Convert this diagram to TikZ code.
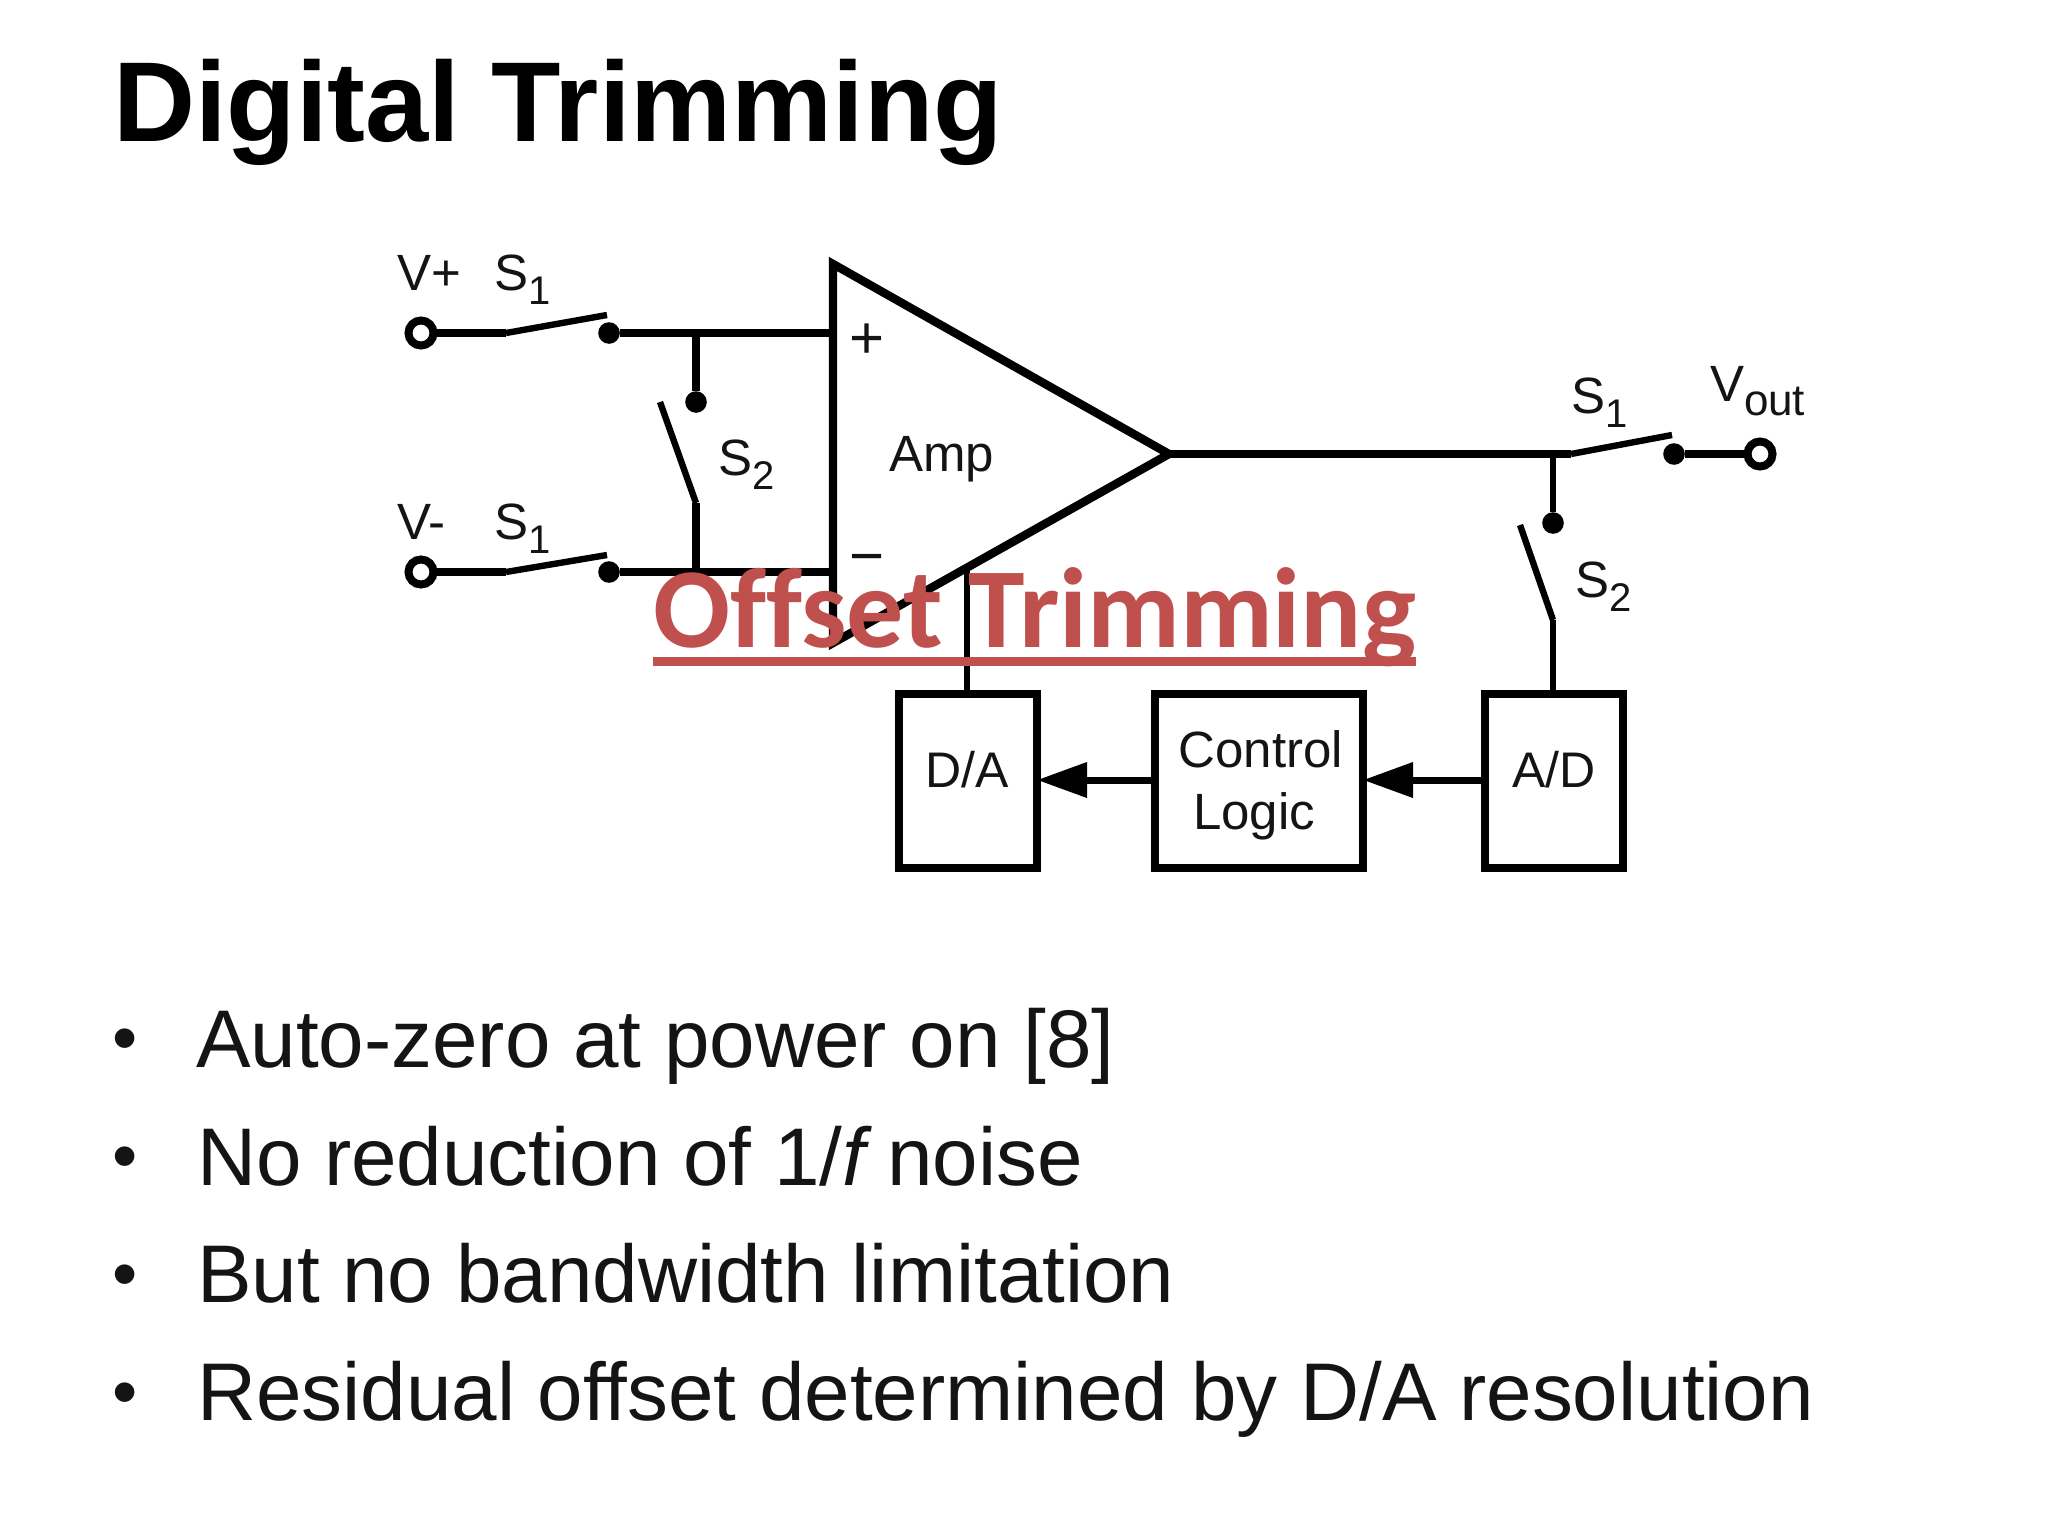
\documentclass[tikz,border=0pt]{standalone}
\usepackage{fontspec}
\setmainfont{Liberation Sans}
\newfontfamily\offsetfont[Ligatures=NoCommon]{Carlito}
\usetikzlibrary{arrows.meta}
\newcommand{\fsz}[1]{\fontsize{#1}{#1}\selectfont}
\newcommand{\subs}[2]{#1\raisebox{-7pt}{\fsz{20}#2}}
\definecolor{offsetred}{HTML}{C0504D}
\definecolor{ink}{HTML}{141414}
\tikzset{
  txt/.style={inner sep=0pt,outer sep=0pt,anchor=base west,text=ink},
  lab/.style={txt,font=\fsz{25.5}},
  bul/.style={txt,font=\fsz{40.9}},
  bdot/.style={inner sep=0pt,outer sep=0pt,anchor=center,text=ink,font=\fsz{36}},
  wire/.style={line width=3.6pt,black},
  blade/.style={line width=3.2pt,black},
  term/.style={circle,draw=black,line width=4pt,fill=white,minimum size=12.5pt,inner sep=0pt,outer sep=0pt},
  cdot/.style={circle,fill=black,minimum size=10.8pt,inner sep=0pt,outer sep=0pt},
  blockbox/.style={rectangle,draw=black,line width=4pt,fill=white,inner sep=0pt,outer sep=0pt},
  sigarrow/.style={line width=3.5pt,black,-{Triangle[length=25pt,width=17pt]}},
}
\begin{document}
\begin{tikzpicture}[x=0.5pt,y=-0.5pt]
\useasboundingbox (0,0) rectangle (2048,1536);
\fill[white] (0,0) rectangle (2048,1536);

% title
\node[txt,font=\fsz{56.8}\bfseries,text=black] (title) at (113,141) {Digital Trimming};

% amplifier
\coordinate (top) at (833,264);
\coordinate (tip) at (1169,454);
\coordinate (bot) at (833,643);
\coordinate (tap) at (967,566);
\draw[line width=4.2pt,black,line join=miter] (top) -- (tip) -- (bot) -- cycle;
\node[lab] (amp) at (889,471) {Amp};
\node[inner sep=0pt,outer sep=0pt,font=\fsz{30},text=ink] (plus) at (867,341) {+};
\node[inner sep=0pt,outer sep=0pt,font=\fsz{30},text=ink] (minus) at (867,565) {−};

% input terminals
\node[term] (vp) at (421,333) {};
\node[term] (vm) at (421,572) {};
\node[cdot] (dp) at (609,333) {};
\node[cdot] (dm) at (609,572) {};
\coordinate (sp0) at (506,333);
\coordinate (sp1) at (607,315);
\coordinate (sm0) at (506,572);
\coordinate (sm1) at (607,555);
\coordinate (ip) at (833,333);
\coordinate (im) at (833,572);
\draw[wire] (vp) -- (sp0);
\draw[wire] (vm) -- (sm0);
\draw[blade] (sp0) -- (sp1);
\draw[blade] (sm0) -- (sm1);
\draw[wire] (dp) -- (ip);
\draw[wire] (dm) -- (im);
\node[lab] (lvp) at (397,290) {V+};
\node[lab] (ls1a) at (494,290) {\subs{S}{1}};
\node[lab] (lvm) at (397,539) {V-};
\node[lab] (ls1b) at (494,539) {\subs{S}{1}};

% input shorting switch
\coordinate (jp) at (696,333);
\coordinate (jm) at (696,572);
\coordinate (h2) at (696,503);
\coordinate (b2) at (660,402);
\node[cdot] (d2) at (696,402) {};
\draw[wire] (jp) -- (d2);
\draw[wire] (jm) -- (h2);
\draw[blade] (h2) -- (b2);
\node[lab] (ls2a) at (718,475) {\subs{S}{2}};

% output
\coordinate (jo) at (1553,454);
\coordinate (so0) at (1571,454);
\coordinate (so1) at (1672,435);
\node[cdot] (dv) at (1674,454) {};
\node[term] (vo) at (1760,454) {};
\draw[wire] (tip) -- (so0);
\draw[blade] (so0) -- (so1);
\draw[wire] (dv) -- (vo);
\node[lab] (ls1c) at (1571,413) {\subs{S}{1}};
\node[lab] (lvo) at (1710,401) {\subs{V}{\fsz{22}out}};

% blocks
\node[blockbox,minimum width=69pt,minimum height=87pt] (da) at (968,781) {};
\node[blockbox,minimum width=104pt,minimum height=87pt] (cl) at (1259,781) {};
\node[blockbox,minimum width=69pt,minimum height=87pt] (ad) at (1554,781) {};
\node[txt,font=\fsz{25},anchor=center] (tda) at (967,770) {D/A};
\node[txt,font=\fsz{25.5},anchor=center] (tcl) at (1261,749) {Control};
\node[txt,font=\fsz{25.5},anchor=center] (tlo) at (1254,816) {Logic};
\node[txt,font=\fsz{25},anchor=center] (tad) at (1554,770) {A/D};
\draw[sigarrow] (ad.west |- 0,780) -- (cl.east |- 0,780);
\draw[sigarrow] (cl.west |- 0,780) -- (da.east |- 0,780);

% output sense switch
\node[cdot] (d3) at (1553,523) {};
\coordinate (h3) at (1553,620);
\coordinate (b3) at (1520,525);
\draw[wire,line width=3pt] (jo) -- (d3);
\draw[wire,line width=3pt] (ad.north -| h3) -- (h3);
\draw[blade] (h3) -- (b3);
\node[lab] (ls2b) at (1575,597) {\subs{S}{2}};

% D/A correction into amplifier
\draw[wire,line width=2.8pt] (da.north -| tap) -- (tap);

% bullets
\node[bdot] (b1) at (125,1046) {•};
\node[bdot] (b2d) at (125,1164) {•};
\node[bdot] (b3d) at (125,1282) {•};
\node[bdot] (b4) at (125,1400) {•};
\node[bul] (t1) at (196,1067) {Auto-zero at power on [8]};
\node[bul] (t2) at (197,1185) {No reduction of 1/\textit{f}\kern-4pt\ noise};
\node[bul] (t3) at (197,1302) {But no bandwidth limitation};
\node[bul] (t4) at (197,1420) {Residual offset determined by D/A resolution};

% overlay
\node[inner sep=0pt,outer sep=0pt,anchor=base west,text=offsetred,font=\offsetfont\bfseries\fsz{57}] (off) at (653,647) {Offset Trimming};
\draw[offsetred,line width=4.5pt] ([yshift=-7pt]off.base west) -- ([yshift=-7pt]off.base east);
\end{tikzpicture}
\end{document}
